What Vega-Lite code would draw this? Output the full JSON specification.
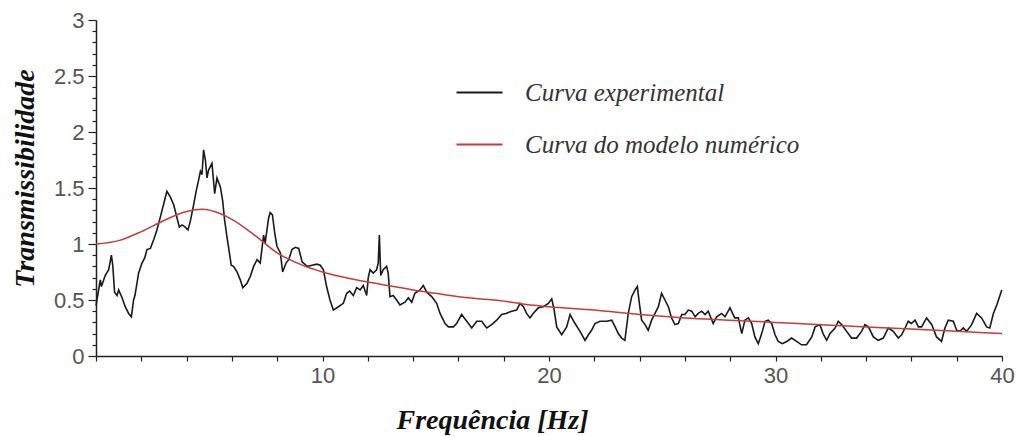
{
  "$schema": "https://vega.github.io/schema/vega-lite/v6.json",
  "autosize": {"type": "none"},
  "padding": {"left": 96, "top": 20, "right": 16, "bottom": 80},
  "width": 906,
  "height": 336,
  "background": "white",
  "config": {
    "view": {"stroke": null},
    "axis": {"grid": false, "domainColor": "#222", "domainWidth": 1.5, "tickColor": "#222", "tickWidth": 1.2,
      "labelFont": "Liberation Sans", "labelFontSize": 22, "labelColor": "#555", "labelFlush": false, "labelOverlap": false,
      "titleFont": "Liberation Serif", "titleFontSize": 28, "titleFontStyle": "italic", "titleFontWeight": "bold", "titleColor": "#111"}
  },
  "datasets": {
    "exp": [
      {"f":0.0,"T":0.45},{"f":0.04,"T":0.50},{"f":0.19,"T":0.68},{"f":0.24,"T":0.62},{"f":0.41,"T":0.72},{"f":0.56,"T":0.77},{"f":0.68,"T":0.90},{"f":0.74,"T":0.81},{"f":0.82,"T":0.57},{"f":0.93,"T":0.54},
      {"f":1.0,"T":0.59},{"f":1.15,"T":0.52},{"f":1.29,"T":0.44},{"f":1.44,"T":0.38},{"f":1.56,"T":0.35},{"f":1.66,"T":0.50},{"f":1.72,"T":0.54},{"f":1.88,"T":0.74},{"f":2.03,"T":0.83},{"f":2.15,"T":0.875},
      {"f":2.25,"T":0.95},{"f":2.40,"T":0.96},{"f":2.55,"T":1.04},{"f":2.69,"T":1.125},{"f":2.84,"T":1.24},{"f":2.99,"T":1.36},{"f":3.13,"T":1.47},{"f":3.28,"T":1.42},{"f":3.43,"T":1.35},{"f":3.58,"T":1.23},
      {"f":3.68,"T":1.15},{"f":3.80,"T":1.17},{"f":3.94,"T":1.15},{"f":4.06,"T":1.125},{"f":4.16,"T":1.20},{"f":4.31,"T":1.35},{"f":4.42,"T":1.47},{"f":4.53,"T":1.57},{"f":4.61,"T":1.65},{"f":4.68,"T":1.62},
      {"f":4.75,"T":1.84},{"f":4.83,"T":1.75},{"f":4.90,"T":1.59},{"f":4.97,"T":1.66},{"f":5.12,"T":1.72},{"f":5.24,"T":1.45},{"f":5.34,"T":1.59},{"f":5.49,"T":1.51},{"f":5.59,"T":1.39},{"f":5.68,"T":1.21},
      {"f":5.78,"T":1.065},{"f":5.89,"T":0.92},{"f":5.97,"T":0.81},{"f":6.07,"T":0.80},{"f":6.23,"T":0.75},{"f":6.37,"T":0.68},{"f":6.48,"T":0.61},{"f":6.67,"T":0.65},{"f":6.81,"T":0.71},{"f":6.96,"T":0.80},
      {"f":7.11,"T":0.86},{"f":7.25,"T":0.83},{"f":7.40,"T":1.08},{"f":7.47,"T":1.01},{"f":7.62,"T":1.23},{"f":7.69,"T":1.28},{"f":7.79,"T":1.26},{"f":7.89,"T":1.10},{"f":7.99,"T":0.98},{"f":8.14,"T":0.92},
      {"f":8.24,"T":0.75},{"f":8.39,"T":0.83},{"f":8.51,"T":0.86},{"f":8.65,"T":0.95},{"f":8.80,"T":0.97},{"f":8.95,"T":0.96},{"f":9.10,"T":0.84},{"f":9.32,"T":0.80},{"f":9.54,"T":0.81},{"f":9.75,"T":0.82},
      {"f":9.90,"T":0.81},{"f":10.04,"T":0.77},{"f":10.18,"T":0.62},{"f":10.33,"T":0.50},{"f":10.48,"T":0.41},{"f":10.70,"T":0.44},{"f":10.92,"T":0.47},{"f":11.07,"T":0.56},{"f":11.2,"T":0.58},{"f":11.36,"T":0.54},
      {"f":11.51,"T":0.61},{"f":11.66,"T":0.59},{"f":11.80,"T":0.63},{"f":11.95,"T":0.54},{"f":12.02,"T":0.70},{"f":12.10,"T":0.77},{"f":12.24,"T":0.74},{"f":12.39,"T":0.77},{"f":12.46,"T":0.83},{"f":12.51,"T":1.08},
      {"f":12.57,"T":0.72},{"f":12.68,"T":0.77},{"f":12.83,"T":0.80},{"f":12.9,"T":0.74},{"f":12.98,"T":0.53},{"f":13.12,"T":0.54},{"f":13.27,"T":0.50},{"f":13.42,"T":0.455},{"f":13.64,"T":0.48},{"f":13.79,"T":0.52},
      {"f":13.94,"T":0.48},{"f":14.08,"T":0.56},{"f":14.30,"T":0.59},{"f":14.45,"T":0.63},{"f":14.6,"T":0.57},{"f":14.82,"T":0.53},{"f":15.04,"T":0.47},{"f":15.19,"T":0.38},{"f":15.41,"T":0.29},{"f":15.56,"T":0.26},
      {"f":15.78,"T":0.26},{"f":15.92,"T":0.29},{"f":16.14,"T":0.37},{"f":16.37,"T":0.31},{"f":16.59,"T":0.25},{"f":16.81,"T":0.31},{"f":17.03,"T":0.31},{"f":17.25,"T":0.25},{"f":17.47,"T":0.28},{"f":17.69,"T":0.32},
      {"f":17.91,"T":0.37},{"f":18.1,"T":0.38},{"f":18.35,"T":0.40},{"f":18.57,"T":0.41},{"f":18.72,"T":0.47},{"f":18.87,"T":0.44},{"f":19.01,"T":0.38},{"f":19.16,"T":0.34},{"f":19.3,"T":0.38},{"f":19.53,"T":0.43},
      {"f":19.75,"T":0.44},{"f":19.97,"T":0.47},{"f":20.12,"T":0.51},{"f":20.22,"T":0.42},{"f":20.34,"T":0.26},{"f":20.56,"T":0.19},{"f":20.78,"T":0.26},{"f":20.93,"T":0.37},{"f":21.15,"T":0.29},{"f":21.37,"T":0.22},
      {"f":21.59,"T":0.14},{"f":21.74,"T":0.19},{"f":21.88,"T":0.23},{"f":22.03,"T":0.29},{"f":22.25,"T":0.31},{"f":22.55,"T":0.31},{"f":22.77,"T":0.32},{"f":22.92,"T":0.26},{"f":23.06,"T":0.20},{"f":23.21,"T":0.16},
      {"f":23.35,"T":0.14},{"f":23.50,"T":0.38},{"f":23.65,"T":0.53},{"f":23.80,"T":0.59},{"f":23.9,"T":0.62},{"f":23.99,"T":0.47},{"f":24.09,"T":0.32},{"f":24.24,"T":0.28},{"f":24.38,"T":0.23},{"f":24.53,"T":0.32},
      {"f":24.68,"T":0.38},{"f":24.83,"T":0.44},{"f":24.97,"T":0.56},{"f":25.12,"T":0.50},{"f":25.27,"T":0.44},{"f":25.41,"T":0.34},{"f":25.56,"T":0.28},{"f":25.71,"T":0.29},{"f":25.86,"T":0.37},{"f":26.0,"T":0.37},
      {"f":26.15,"T":0.41},{"f":26.3,"T":0.40},{"f":26.45,"T":0.35},{"f":26.59,"T":0.38},{"f":26.74,"T":0.40},{"f":26.89,"T":0.37},{"f":27.03,"T":0.40},{"f":27.25,"T":0.29},{"f":27.4,"T":0.35},{"f":27.62,"T":0.38},
      {"f":27.77,"T":0.35},{"f":27.99,"T":0.43},{"f":28.2,"T":0.34},{"f":28.36,"T":0.34},{"f":28.51,"T":0.20},{"f":28.65,"T":0.32},{"f":28.8,"T":0.34},{"f":28.95,"T":0.29},{"f":29.09,"T":0.17},{"f":29.24,"T":0.11},
      {"f":29.39,"T":0.20},{"f":29.54,"T":0.31},{"f":29.68,"T":0.32},{"f":29.83,"T":0.29},{"f":29.98,"T":0.19},{"f":30.12,"T":0.13},{"f":30.3,"T":0.11},{"f":30.5,"T":0.13},{"f":30.71,"T":0.16},{"f":30.93,"T":0.13},
      {"f":31.15,"T":0.10},{"f":31.37,"T":0.10},{"f":31.60,"T":0.17},{"f":31.75,"T":0.26},{"f":31.96,"T":0.28},{"f":32.1,"T":0.20},{"f":32.26,"T":0.14},{"f":32.4,"T":0.20},{"f":32.63,"T":0.25},{"f":32.77,"T":0.31},
      {"f":32.92,"T":0.28},{"f":33.14,"T":0.22},{"f":33.36,"T":0.16},{"f":33.58,"T":0.16},{"f":33.80,"T":0.22},{"f":33.95,"T":0.28},{"f":34.1,"T":0.26},{"f":34.32,"T":0.17},{"f":34.54,"T":0.14},{"f":34.76,"T":0.16},
      {"f":34.98,"T":0.25},{"f":35.2,"T":0.22},{"f":35.42,"T":0.16},{"f":35.57,"T":0.19},{"f":35.72,"T":0.25},{"f":35.86,"T":0.31},{"f":36.0,"T":0.29},{"f":36.16,"T":0.32},{"f":36.31,"T":0.26},{"f":36.45,"T":0.26},
      {"f":36.67,"T":0.34},{"f":36.9,"T":0.28},{"f":37.11,"T":0.17},{"f":37.33,"T":0.13},{"f":37.48,"T":0.25},{"f":37.63,"T":0.32},{"f":37.85,"T":0.31},{"f":38.0,"T":0.23},{"f":38.14,"T":0.22},{"f":38.29,"T":0.25},
      {"f":38.44,"T":0.22},{"f":38.66,"T":0.28},{"f":38.88,"T":0.38},{"f":39.1,"T":0.34},{"f":39.32,"T":0.26},{"f":39.46,"T":0.25},{"f":39.62,"T":0.38},{"f":39.77,"T":0.455},{"f":39.99,"T":0.59}
    ],
    "mod": [
      {"f":0,"T":1.0},{"f":1,"T":1.03},{"f":2,"T":1.11},{"f":3,"T":1.21},{"f":4,"T":1.29},{"f":4.7,"T":1.31},{"f":5.5,"T":1.27},{"f":6,"T":1.22},{"f":7,"T":1.08},{"f":8,"T":0.92},
      {"f":9,"T":0.82},{"f":10,"T":0.75},{"f":11,"T":0.70},{"f":12,"T":0.66},{"f":13,"T":0.625},{"f":14,"T":0.59},{"f":15,"T":0.56},{"f":16,"T":0.53},{"f":17,"T":0.51},{"f":18,"T":0.49},
      {"f":19,"T":0.46},{"f":20,"T":0.44},{"f":22,"T":0.41},{"f":24,"T":0.37},{"f":26,"T":0.34},{"f":28,"T":0.32},{"f":30,"T":0.30},{"f":32,"T":0.28},{"f":34,"T":0.26},{"f":36,"T":0.24},
      {"f":38,"T":0.22},{"f":40,"T":0.20}
    ]
  },
  "encoding": {
    "x": {"field": "f", "type": "quantitative",
      "scale": {"domain": [0, 40], "nice": false},
      "axis": {"values": [0,2,4,6,8,10,12,14,16,18,20,22,24,26,28,30,32,34,36,38,40],
        "labelExpr": "datum.value % 10 == 0 && datum.value > 0 ? datum.label : ''",
        "tickSize": 5, "labelPadding": 4,
        "title": "Frequência  [Hz]", "titleX": 396, "titleY": 72, "titleAlign": "center", "titleBaseline": "alphabetic"}},
    "y": {"field": "T", "type": "quantitative",
      "scale": {"domain": [0, 3], "nice": false},
      "axis": {"values": [0,0.1,0.2,0.3,0.4,0.5,0.6,0.7,0.8,0.9,1,1.1,1.2,1.3,1.4,1.5,1.6,1.7,1.8,1.9,2,2.1,2.2,2.3,2.4,2.5,2.6,2.7,2.8,2.9,3],
        "format": ".1~f",
        "labelExpr": "abs(datum.value*2 - round(datum.value*2)) < 0.001 ? datum.label : ''",
        "tickSize": {"condition": {"test": "abs(datum.value*2 - round(datum.value*2)) < 0.001", "value": 8}, "value": 4},
        "labelPadding": 4,
        "title": "Transmissibilidade", "titleX": -63, "titleY": 158, "titleAlign": "center", "titleBaseline": "alphabetic", "titleAngle": -90}}
  },
  "layer": [
    {
      "data": {"name": "exp"},
      "mark": {"type": "line", "strokeWidth": 1.6, "interpolate": "linear"},
      "encoding": {"color": {"datum": "Curva experimental", "type": "nominal",
        "scale": {"domain": ["Curva experimental", "Curva do modelo numérico"], "range": ["#1a1a1a", "#cc3a3a"]},
        "legend": {"orient": "none", "legendX": 359, "legendY": 48, "title": null, "padding": 0,
          "symbolType": "stroke", "symbolSize": 2116, "symbolStrokeWidth": 2.2, "labelOffset": 21, "labelLimit": 0,
          "labelFont": "Liberation Serif", "labelFontStyle": "italic", "labelFontSize": 25, "labelColor": "#333", "rowPadding": 14}}}
    },
    {
      "data": {"name": "mod"},
      "mark": {"type": "line", "strokeWidth": 1.5, "interpolate": "monotone"},
      "encoding": {"color": {"datum": "Curva do modelo numérico", "type": "nominal"}}
    }
  ]
}
